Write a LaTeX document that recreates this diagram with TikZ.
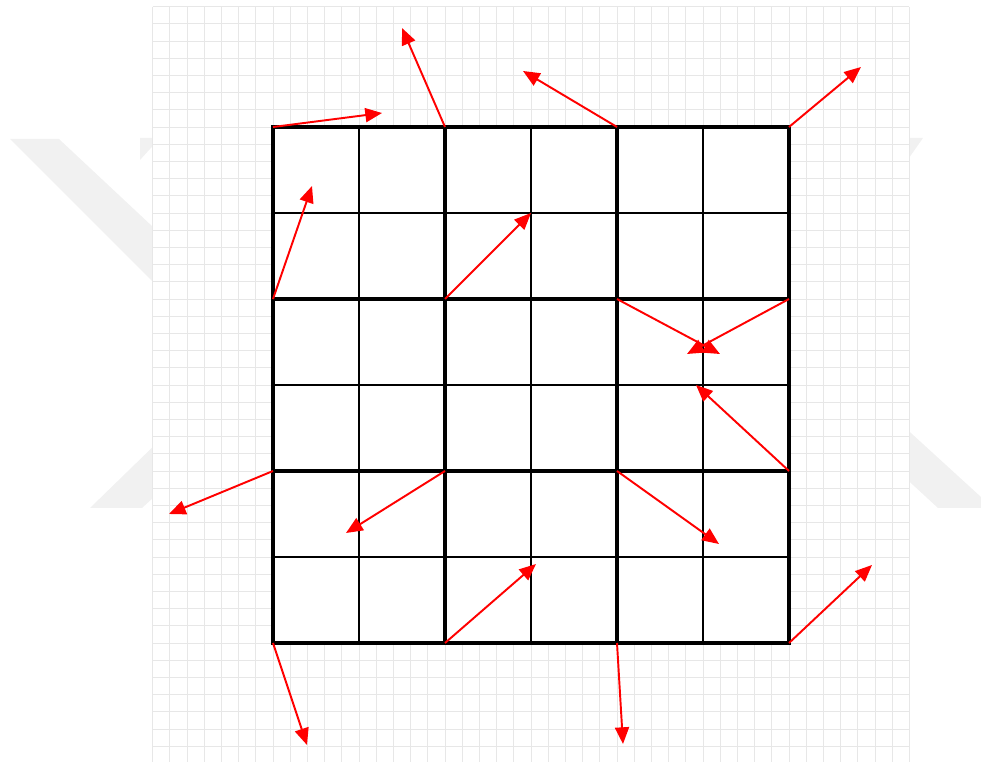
\documentclass[tikz,border=0pt]{standalone}
\usetikzlibrary{arrows.meta}
\definecolor{wm}{RGB}{241,241,241}
\definecolor{bggrid}{RGB}{231,231,231}
\definecolor{vecred}{RGB}{255,0,0}
\tikzset{
  bgline/.style={draw=bggrid, line width=0.55pt},
  thinline/.style={draw=black, line width=1.0pt},
  thickline/.style={draw=black, line width=2.0pt, line cap=rect},
  vec/.style={draw=vecred, line width=1.1pt, -{Triangle[length=9.5pt,width=8pt]}},
  wmark/.style={fill=wm, draw=none}
}
\begin{document}
\begin{tikzpicture}[x=0.02cm,y=-0.02cm]
\useasboundingbox (0,0) rectangle (981,763);
% watermark
\fill[wmark] (10,139) -- (59,139) -- (200,271) -- (200,329) -- cycle;
\fill[wmark] (90,508) -- (142,508) -- (200,455) -- (200,401) -- cycle;
\fill[wmark] (140,138) -- (160,138) -- (140,160) -- cycle;
\fill[wmark] (890,138) -- (923,138) -- (890,185) -- cycle;
\fill[wmark] (900,423) -- (981,497) -- (981,508) -- (938,508) -- (900,473) -- cycle;
% background paper grid
\fill[white] (152.6,6.6) rectangle (909.4,762.4);
\foreach \i in {0,...,44} {
  \draw[bgline] ({152.6+17.2*\i},6.6) -- ({152.6+17.2*\i},762.4);
  \draw[bgline] (152.6,{6.6+17.2*\i}) -- (909.4,{6.6+17.2*\i});
}
% main grid
\fill[white] (273,127) rectangle (789,643);
\foreach \i in {1,3,5} {
  \draw[thinline] ({273+86*\i},127) -- ({273+86*\i},643);
  \draw[thinline] (273,{127+86*\i}) -- (789,{127+86*\i});
}
\foreach \i in {0,2,4,6} {
  \draw[thickline] ({273+86*\i},127) -- ({273+86*\i},643);
  \draw[thickline] (273,{127+86*\i}) -- (789,{127+86*\i});
}
% lattice vertices
\foreach \c [count=\ci] in {273,445,617,789} {
  \foreach \r [count=\ri] in {127,299,471,643} {
    \coordinate (v\ri\ci) at (\c,\r);
  }
}
% gradient tips
\coordinate (t11) at (382,113);
\coordinate (t12) at (402,28);
\coordinate (t13) at (523,71);
\coordinate (t14) at (861,67);
\coordinate (t21) at (312,186);
\coordinate (t22) at (531,213);
\coordinate (t23) at (720,354);
\coordinate (t24) at (687,354);
\coordinate (t31) at (169,514);
\coordinate (t32) at (346,533);
\coordinate (t33) at (719,544);
\coordinate (t34) at (696,385);
\coordinate (t41) at (307,745);
\coordinate (t42) at (536,564);
\coordinate (t43) at (623,744);
\coordinate (t44) at (872,565);
\foreach \r in {1,2,3,4} {
  \foreach \c in {1,2,3,4} {
    \draw[vec] (v\r\c) -- (t\r\c);
  }
}
\end{tikzpicture}
\end{document}
